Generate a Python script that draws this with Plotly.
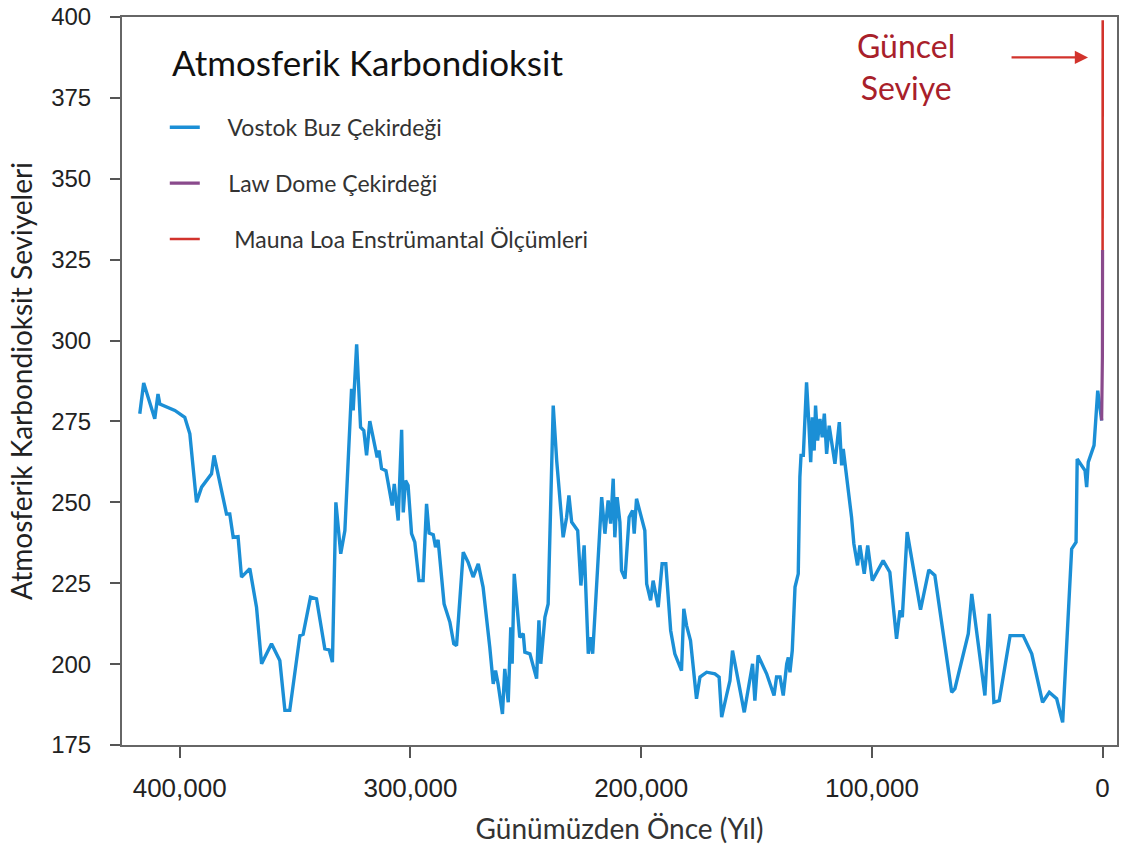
import plotly.graph_objects as go

# Vostok ice core record: years before present and CO2 (ppm)
vostok_years = [
    417300, 415600, 410800, 409400, 408600, 402100, 397800, 395600, 392700, 390500,
    386200, 385100, 379700, 378300, 376800, 374700, 373200, 369600, 366700, 364500,
    360200, 356600, 354400, 352300,
    347900, 346500, 343300, 340700, 337100, 335200, 333800, 332300, 330200, 328400,
    325500, 324800, 323300, 322700, 321600, 320200, 319000, 317600, 315400, 314400,
    313600, 312500, 310600, 308900, 307900, 307000, 305300, 303800, 303100, 302100,
    301000, 299500, 298100, 296300, 294500, 293000, 291900, 290100, 289100, 288000,
    285400, 282900, 281200, 280000, 278600,
    277100, 275000, 272800, 270600, 268500, 265600, 264100, 263100, 262000, 260100,
    259100, 257600, 256500, 255900, 255000, 252600, 251100, 250400, 248200, 245300,
    244300, 243500, 241700, 240300, 238100, 236600, 234800, 233800, 232300, 231300,
    230100, 227500, 226100, 224700, 222900, 221800, 221000, 220000, 217100, 215700,
    214300, 213200, 212100, 211400, 210400, 209200, 208500, 207000, 205200, 203700,
    203000, 202000, 198400, 197600, 195900, 194800, 192600, 190900, 189300, 187200,
    185400, 182500, 181500, 180300, 178600, 176000, 174500, 171600, 168000, 166200,
    165100, 163000, 161500, 160400, 157900, 155300, 151700, 150700, 149300, 145600,
    142400, 141300, 139800, 138400, 136900, 136200, 135500, 134500, 133300, 131900,
    131200, 130700, 129700, 129000, 128300, 127300, 126500, 125800, 125000, 124400,
    123500, 122500, 121500, 120600, 119600, 118500, 116000, 114100, 113100, 112400,
    110900, 108800, 107800, 106200, 105200, 103300, 101800, 99800, 95100, 92200,
    89300, 87800, 86800, 84700, 81600, 78900, 75300, 72700, 65400, 64000,
    58200, 56700, 51000, 49100, 47100, 44800, 40100, 34400, 30700, 26000,
    23100, 19900, 17300, 13400, 11500, 11000, 7600, 6900, 6200, 3700,
    2100, 400,
]
vostok_co2 = [
    277.4, 286.9, 275.8, 283.5, 280.4, 278.4, 276.3, 271.2, 250.0, 254.7,
    258.8, 264.5, 246.4, 246.4, 239.2, 239.4, 226.9, 229.5, 217.6, 200.1,
    206.3, 201.1, 185.7, 185.7,
    208.8, 209.2, 220.7, 220.2, 204.7, 204.4, 200.6, 250.0, 234.1, 241.3,
    285.1, 278.4, 298.8, 288.7, 273.2, 272.2, 264.5, 275.1, 267.6, 263.9,
    266.0, 260.4, 259.8, 253.7, 249.0, 255.7, 244.4, 272.4, 246.9, 256.7,
    255.2, 240.3, 237.7, 225.8, 225.8, 249.5, 240.5, 240.0, 236.1, 238.4,
    218.6, 213.0, 206.3, 205.7, 218.6,
    234.6, 231.5, 226.9, 231.0, 223.8, 205.2, 193.9, 198.0, 193.9, 184.6,
    198.5, 188.2, 211.4, 200.1, 227.9, 208.3, 209.4, 203.7, 203.2, 195.5,
    213.5, 200.1, 214.5, 218.6, 279.9, 262.9, 248.5, 239.2, 245.4, 252.1,
    243.9, 241.3, 224.3, 236.7, 203.2, 208.3, 203.2, 215.5, 251.6, 240.3,
    250.6, 243.4, 257.3, 239.2, 251.6, 243.9, 228.9, 226.4, 245.4, 247.5,
    240.3, 251.1, 241.3, 224.8, 219.7, 225.8, 217.6, 231.0, 231.0, 210.4,
    203.2, 198.0, 217.1, 211.9, 207.3, 189.3, 196.0, 197.5, 197.0, 196.0,
    183.6, 190.3, 194.9, 204.2, 194.9, 185.1, 200.1, 188.7, 202.7, 197.0,
    190.3, 196.0, 196.0, 190.3, 200.1, 202.1, 197.5, 204.2, 223.8, 227.9,
    257.8, 264.5, 264.5, 275.3, 287.1, 274.3, 262.4, 276.3, 266.0, 279.9,
    269.1, 275.8, 270.1, 277.4, 265.0, 273.7, 261.9, 274.8, 261.4, 266.5,
    257.8, 245.4, 237.2, 230.5, 236.7, 227.9, 236.7, 225.8, 232.0, 228.4,
    207.8, 216.6, 214.5, 240.8, 227.9, 216.8, 229.1, 227.4, 191.3, 192.4,
    209.4, 221.7, 190.3, 215.5, 188.2, 188.7, 208.8, 208.8, 203.2, 188.2,
    191.3, 189.3, 182.0, 235.6, 237.7, 263.4, 259.8, 254.7, 262.4, 267.6,
    284.5, 275.3,
]
assert len(vostok_years) == len(vostok_co2)

# Law Dome ice core (last centuries)
lawdome_years = [400, 250, 150, 80, 40, 10]
lawdome_co2 = [275.3, 280.0, 284.0, 295.0, 310.0, 328.0]

# Mauna Loa instrumental measurements
maunaloa_years = [-10, -25, -40, -55, -65]
maunaloa_co2 = [328.0, 345.0, 362.0, 385.0, 399.0]

x_tick_vals = [400000, 300000, 200000, 100000, 0]
x_tick_text = ["400,000", "300,000", "200,000", "100,000", "0"]
y_tick_vals = [175, 200, 225, 250, 275, 300, 325, 350, 375, 400]

BLUE = "#1b8fd6"
PURPLE = "#8a4a8c"
RED = "#d2332c"
TEXT_FONT = "Lato"
TICK_FONT = "Liberation Sans, Arial"
NB = "\u00a0"

fig = go.Figure()
fig.add_trace(go.Scatter(
    x=vostok_years, y=vostok_co2, mode="lines",
    name=NB * 3 + " Vostok Buz Çekirdeği",
    line=dict(color=BLUE, width=3.4), legendgroup="a",
))
fig.add_trace(go.Scatter(
    x=lawdome_years, y=lawdome_co2, mode="lines",
    name=NB * 3 + " Law Dome Çekirdeği",
    line=dict(color=PURPLE, width=3.2), legendgroup="b",
))
fig.add_trace(go.Scatter(
    x=maunaloa_years, y=maunaloa_co2, mode="lines",
    name=NB * 4 + " Mauna Loa Enstrümantal Ölçümleri",
    line=dict(color=RED, width=2.6), legendgroup="c",
))

fig.update_layout(
    width=1123, height=853,
    margin=dict(l=122, r=6, t=17, b=108, autoexpand=False),
    plot_bgcolor="white", paper_bgcolor="white",
    font=dict(family=TEXT_FONT, color="#222"),
    legend=dict(
        x=0.043, y=0.878, xanchor="left", yanchor="top",
        bgcolor="rgba(0,0,0,0)",
        font=dict(family=TEXT_FONT, size=23, color="#333"),
        tracegroupgap=23, itemwidth=30,
    ),
    xaxis=dict(
        range=[425000, -6250], tickvals=x_tick_vals, ticktext=x_tick_text,
        showgrid=False, zeroline=False, automargin=False,
        showline=True, linecolor="#666", linewidth=2, mirror=True,
        ticks="outside", ticklen=11, tickwidth=2, tickcolor="#555",
        tickfont=dict(family=TICK_FONT, size=26, color="#222"),
        ticklabelstandoff=8,
        title=dict(text="Günümüzden Önce (Yıl)",
                   font=dict(family=TEXT_FONT, size=28, color="#333"),
                   standoff=17),
    ),
    yaxis=dict(
        range=[175, 400], tickvals=y_tick_vals,
        showgrid=False, zeroline=False, automargin=False,
        showline=True, linecolor="#666", linewidth=2, mirror=True,
        ticks="outside", ticklen=10, tickwidth=2, tickcolor="#555",
        tickfont=dict(family=TICK_FONT, size=24, color="#222"),
        ticklabelstandoff=14,
        title=dict(text="Atmosferik Karbondioksit Seviyeleri",
                   font=dict(family=TEXT_FONT, size=28, color="#222"),
                   standoff=10),
    ),
)

# Chart heading above the legend entries
fig.add_annotation(
    xref="paper", yref="paper", x=0.048, y=1 - (62 - 17) / 728,
    text="Atmosferik Karbondioksit", showarrow=False,
    xanchor="left", yanchor="middle",
    font=dict(family=TEXT_FONT, size=35, color="#111"),
)

# "Güncel Seviye" label with arrow pointing to the present-day value
fig.add_annotation(
    x=85200, y=384.8, text="Güncel<br>Seviye", showarrow=False,
    font=dict(family=TEXT_FONT, size=32, color="#a8202a"),
    xanchor="center", yanchor="middle",
)
fig.add_annotation(
    x=6300, y=387.5, ax=-78, ay=0, text="", showarrow=True,
    arrowhead=2, arrowsize=1.2, arrowwidth=2.2, arrowcolor=RED,
)

fig.write_html("out.html")
